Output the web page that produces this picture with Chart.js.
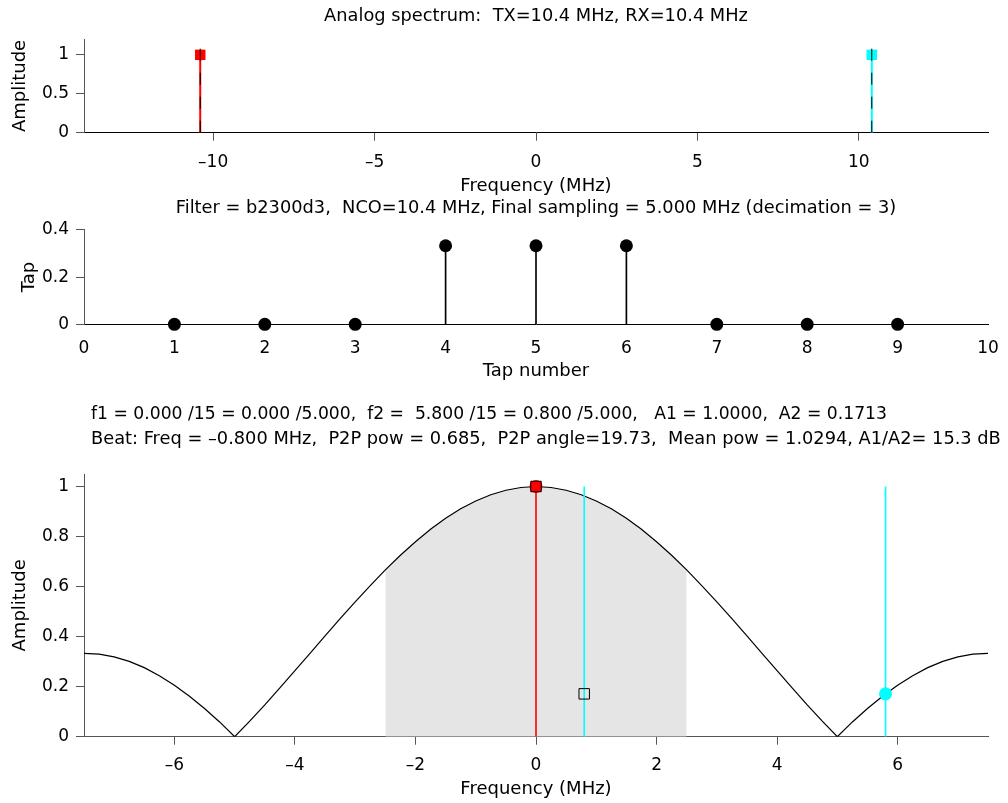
<!DOCTYPE html>
<html>
<head>
<meta charset="utf-8">
<title>Spectrum / taps / response</title>
<script src="https://cdn.jsdelivr.net/npm/chart.js@4.4.1/dist/chart.umd.min.js"></script>
<style>
  body { margin: 0; background: #fff; }
  #wrap { position: relative; width: 1008px; height: 803px; }
  .panel { position: absolute; left: 0; width: 1008px; }
</style>
</head>
<body>
<div id="wrap">
  <div class="panel" style="top:0;height:200px"><canvas id="spectrumChart"></canvas></div>
  <div class="panel" style="top:195px;height:190px"><canvas id="tapChart"></canvas></div>
  <div class="panel" style="top:390px;height:413px"><canvas id="responseChart"></canvas></div>
</div>
<script>
const fontFamily = '"DejaVu Sans", sans-serif';

// top panel: analog spectrum
const spectrumFreq = [-10.4, 10.4];
const spectrumAmp = [1, 1];
const spectrumColors = ['#ff0000', '#00ffff'];
const dashedTop = 1.08;
const topXTicks = [-10, -5, 0, 5, 10];
const topYTicks = [0, 0.5, 1];

// middle panel: filter taps
const tapNumber = [1, 2, 3, 4, 5, 6, 7, 8, 9];
const tapValue = [0, 0, 0, 0.333, 0.333, 0.333, 0, 0, 0];
const midXTicks = [0, 1, 2, 3, 4, 5, 6, 7, 8, 9, 10];
const midYTicks = [0, 0.2, 0.4];

// bottom panel: filter response
const respFreq = [-7.5, -7.25, -7, -6.75, -6.5, -6.25, -6, -5.75, -5.5, -5.25,
  -5, -4.75, -4.5, -4.25, -4, -3.75, -3.5, -3.25, -3, -2.75,
  -2.5, -2.25, -2, -1.75, -1.5, -1.25, -1, -0.75, -0.5, -0.25,
  0, 0.25, 0.5, 0.75, 1, 1.25, 1.5, 1.75, 2, 2.25,
  2.5, 2.75, 3, 3.25, 3.5, 3.75, 4, 4.25, 4.5, 4.75,
  5, 5.25, 5.5, 5.75, 6, 6.25, 6.5, 6.75, 7, 7.25, 7.5];
const respAmp = [0.333, 0.330, 0.319, 0.301, 0.276, 0.244, 0.206, 0.162, 0.113, 0.059,
  0, 0.062, 0.127, 0.195, 0.264, 0.333, 0.403, 0.472, 0.539, 0.604,
  0.667, 0.725, 0.779, 0.829, 0.873, 0.911, 0.942, 0.967, 0.985, 0.996,
  1, 0.996, 0.985, 0.967, 0.942, 0.911, 0.873, 0.829, 0.779, 0.725,
  0.667, 0.604, 0.539, 0.472, 0.403, 0.333, 0.264, 0.195, 0.127, 0.062,
  0, 0.059, 0.113, 0.162, 0.206, 0.244, 0.276, 0.301, 0.319, 0.330, 0.333];
const passband = [-2.5, 2.5];
const toneFreq = [0, 0.8, 5.8];      // f1, f2 aliased, f2
const toneAmp = [1, 0.1713, 0.1713];
const toneLineTop = 1;
const botXTicks = [-6, -4, -2, 0, 2, 4, 6];
const botYTicks = [0, 0.2, 0.4, 0.6, 0.8, 1];
const infoLines = [
  'f1 = 0.000 /15 = 0.000 /5.000,  f2 =  5.800 /15 = 0.800 /5.000,   A1 = 1.0000,  A2 = 0.1713',
  'Beat: Freq = \u20130.800 MHz,  P2P pow = 0.685,  P2P angle=19.73,  Mean pow = 1.0294, A1/A2= 15.3 dB'
];

function tickLabel(v) {
  return v < 0 ? '\u2013' + Math.abs(v) : String(v);
}

function xAxis(min, max, list, o) {
  return {
    type: 'linear', min: min, max: max, offset: false,
    afterBuildTicks: function(s) { s.ticks = list.map(v => ({ value: v })); },
    afterFit: function(s) { s.height = o.height; s.paddingLeft = 0; s.paddingRight = 0; },
    grid: { drawOnChartArea: false, drawTicks: o.drawTicks, tickLength: 8, color: '#555' },
    border: { color: o.border, width: 1 },
    ticks: { font: { family: fontFamily, size: 17 }, color: '#000', padding: o.pad,
             autoSkip: false, maxRotation: 0, callback: tickLabel },
    title: { display: true, text: o.title, font: { family: fontFamily, size: 18 }, color: '#000', padding: 0 }
  };
}

function yAxis(min, max, list, o) {
  return {
    type: 'linear', min: min, max: max,
    afterBuildTicks: function(s) { s.ticks = list.map(v => ({ value: v })); },
    afterFit: function(s) { s.width = 84; s.paddingTop = 0; s.paddingBottom = 0; },
    grid: { drawOnChartArea: false, drawTicks: true, tickLength: 8, color: '#555' },
    border: { color: '#555', width: 1 },
    ticks: { font: { family: fontFamily, size: 17 }, color: '#000', padding: 7,
             autoSkip: false, callback: tickLabel },
    title: { display: true, text: o.title, font: { family: fontFamily, size: 18 }, color: '#000',
             padding: { top: o.titlePad, bottom: 0 } }
  };
}

function baseOptions(padding, title, scales) {
  return {
    responsive: true, maintainAspectRatio: false, animation: false, devicePixelRatio: 1, events: [],
    layout: { padding: padding },
    plugins: { legend: { display: false }, tooltip: { enabled: false }, title: title },
    scales: scales
  };
}

// ---------- top ----------
let spectrumSets = [];
spectrumFreq.forEach(function(f, i) {
  spectrumSets.push({
    data: [{ x: f, y: 0 }, { x: f, y: dashedTop }], showLine: true, borderColor: '#000',
    borderWidth: 1, borderDash: [12, 12], pointRadius: 0, order: 0
  });
  spectrumSets.push({
    data: [{ x: f, y: spectrumAmp[i] }], pointStyle: 'rect', pointRadius: 7.4,
    backgroundColor: spectrumColors[i], borderColor: spectrumColors[i], borderWidth: 0, clip: false, order: 1
  });
  spectrumSets.push({
    data: [{ x: f, y: 0 }, { x: f, y: spectrumAmp[i] }], showLine: true, borderColor: spectrumColors[i],
    borderWidth: 2, pointRadius: 0, order: 2
  });
});

new Chart(document.getElementById('spectrumChart'), {
  type: 'scatter',
  data: { datasets: spectrumSets },
  options: baseOptions({ left: 0, right: 20, top: 0, bottom: 3.3 },
    { display: true, text: 'Analog spectrum:  TX=10.4 MHz, RX=10.4 MHz', fullSize: false,
      font: { family: fontFamily, size: 17.8, weight: 'normal' }, color: '#000', padding: { top: 5.3, bottom: 12.6 } },
    {
      x: xAxis(-14, 14, topXTicks, { height: 64, drawTicks: true, border: '#000', pad: 12, title: 'Frequency (MHz)' }),
      y: yAxis(0, 1.2, topYTicks, { title: 'Amplitude', titlePad: 9.7 })
    })
});

// ---------- middle ----------
const tapPoints = tapNumber.map((t, i) => ({ x: t, y: tapValue[i] }));

new Chart(document.getElementById('tapChart'), {
  type: 'scatter',
  data: {
    datasets: [
      { type: 'scatter', data: tapPoints, pointRadius: 6.5, backgroundColor: '#000', borderColor: '#000',
        borderWidth: 0, clip: false, order: 0 },
      { type: 'bar', data: tapPoints, backgroundColor: '#000', barThickness: 1, grouped: false, order: 1 }
    ]
  },
  options: baseOptions({ left: 0, right: 20, top: 0, bottom: 3.2 },
    { display: true, text: 'Filter = b2300d3,  NCO=10.4 MHz, Final sampling = 5.000 MHz (decimation = 3)', fullSize: false,
      font: { family: fontFamily, size: 17.8, weight: 'normal' }, color: '#000', padding: { top: 2.3, bottom: 11.3 } },
    {
      x: xAxis(0, 10, midXTicks, { height: 57.5, drawTicks: false, border: '#000', pad: 14, title: 'Tap number' }),
      y: yAxis(0, 0.4, midYTicks, { title: 'Tap', titlePad: 18.2 })
    })
});

// ---------- bottom ----------
const infoText = {
  id: 'infoText',
  afterDraw: function(chart) {
    const ctx = chart.ctx;
    ctx.save();
    ctx.font = '17.8px ' + fontFamily;
    ctx.fillStyle = '#000';
    ctx.textBaseline = 'middle';
    ctx.fillText(infoLines[0], 91, 24, 796);
    ctx.fillText(infoLines[1], 91, 49, 912);
    ctx.restore();
  }
};

const curve = respFreq.map((f, i) => ({ x: f, y: respAmp[i] }));
const passCurve = curve.filter(p => p.x >= passband[0] && p.x <= passband[1]);
const toneColors = ['#ff0000', '#00ffff', '#00ffff'];

let responseSets = [
  { data: passCurve, showLine: true, fill: 'origin', backgroundColor: '#e5e5e5', borderWidth: 0, pointRadius: 0, order: 5 },
  { data: curve, showLine: true, borderColor: '#000', borderWidth: 1.2, pointRadius: 0, order: 4 }
];
toneFreq.forEach(function(f, i) {
  responseSets.push({
    data: [{ x: f, y: 0 }, { x: f, y: toneLineTop }], showLine: true, borderColor: toneColors[i],
    borderWidth: 1.6, pointRadius: 0, order: 3
  });
});
// markers: f1 (red circle + square), aliased f2 (hollow square), f2 (cyan circle)
responseSets.push({ data: [{ x: toneFreq[0], y: toneAmp[0] }], pointRadius: 6.5, backgroundColor: '#ff0000',
  borderColor: '#ff0000', borderWidth: 0, clip: false, order: 2 });
responseSets.push({ data: [{ x: toneFreq[0], y: toneAmp[0] }], pointStyle: 'rect', pointRadius: 7.4,
  backgroundColor: '#ff0000', borderColor: '#000', borderWidth: 1, clip: false, order: 1 });
responseSets.push({ data: [{ x: toneFreq[1], y: toneAmp[1] }], pointStyle: 'rect', pointRadius: 7.4,
  backgroundColor: 'rgba(0,0,0,0)', borderColor: '#000', borderWidth: 1, clip: false, order: 1 });
responseSets.push({ data: [{ x: toneFreq[2], y: toneAmp[2] }], pointRadius: 6.5, backgroundColor: '#00ffff',
  borderColor: '#00ffff', borderWidth: 0, clip: false, order: 1 });

new Chart(document.getElementById('responseChart'), {
  type: 'scatter',
  data: { datasets: responseSets },
  options: baseOptions({ left: 0, right: 20, top: 84, bottom: 3.2 },
    { display: false },
    {
      x: xAxis(-7.5, 7.5, botXTicks, { height: 63.1, drawTicks: true, border: '#555', pad: 11, title: 'Frequency (MHz)' }),
      y: yAxis(0, 1.05, botYTicks, { title: 'Amplitude', titlePad: 9.5 })
    }),
  plugins: [infoText]
});
</script>
</body>
</html>
